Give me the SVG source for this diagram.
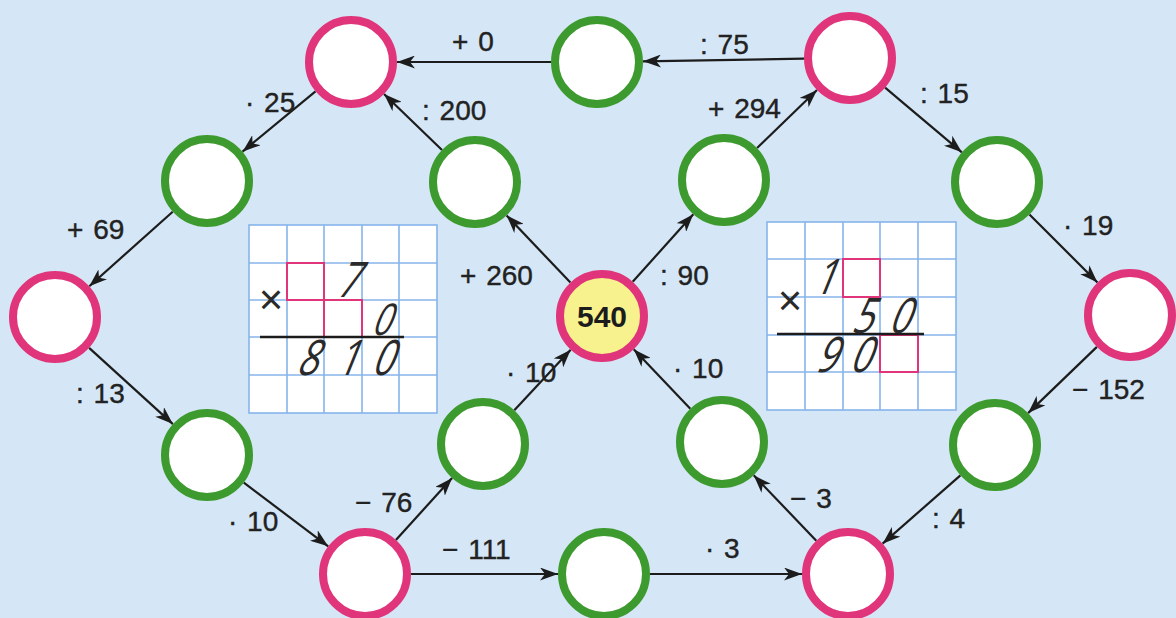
<svg xmlns="http://www.w3.org/2000/svg" width="1176" height="618" viewBox="0 0 1176 618">
<defs>
<marker id="arr" viewBox="0 0 18 13" refX="18" refY="6.5" markerWidth="18" markerHeight="13" markerUnits="userSpaceOnUse" orient="auto">
<path d="M0,0 L18,6.5 L0,13 L5,6.5 Z" fill="#1c1c1c"/>
</marker>
</defs>
<style>
.pk{fill:#ffffff;stroke:#e0357a;stroke-width:8}
.gr{fill:#ffffff;stroke:#3d9a2e;stroke-width:8}
.ctr{fill:#f7f28d;stroke:#e0357a;stroke-width:8}
.e{stroke:#1c1c1c;stroke-width:2.2;fill:none;marker-end:url(#arr)}
.lb{font-family:"Liberation Sans",Arial,sans-serif;font-size:28px;fill:#222222;stroke:#222222;stroke-width:0.4;word-spacing:2px}
.cell{fill:#ffffff;stroke:#86b4ea;stroke-width:1.6}
.gl{stroke:#86b4ea;stroke-width:1.6}
.box{fill:none;stroke:#e0357a;stroke-width:2}
.hw{font-family:"Open Sans","Liberation Sans",sans-serif;font-weight:400;font-size:49px;fill:#2a2a2a;text-anchor:middle}
.x{font-family:"Liberation Sans",Arial,sans-serif;font-size:42px;fill:#2a2a2a;text-anchor:middle}
.bar{stroke:#1c1c1c;stroke-width:2.5}
</style>
<rect x="0" y="0" width="1176" height="618" fill="#d5e7f6"/>

<g id="grid-left">
<rect class="cell" x="249" y="225" width="188" height="188"/>
<path class="gl" d="M287,225V413M324,225V413M362,225V413M399,225V413M249,263H437M249,300H437M249,337H437M249,375H437"/>
<rect class="box" x="287" y="263" width="37" height="37"/>
<rect class="box" x="324" y="300" width="38" height="37"/>
<text class="x" x="271" y="314">×</text>
<line class="bar" x1="260" y1="337" x2="404" y2="337"/>
<text class="hw" transform="translate(346,297) skewX(-22) scale(0.75,1)">7</text>
<text class="hw" transform="translate(380,335) skewX(-22) scale(0.75,1)" style="font-size:44px">0</text>
<text class="hw" transform="translate(306,375) skewX(-22) scale(0.75,1)">8</text>
<text class="hw" transform="translate(346,375) skewX(-22) scale(0.75,1)">1</text>
<text class="hw" transform="translate(381,375) skewX(-22) scale(0.75,1)">0</text>
</g>

<g id="grid-right">
<rect class="cell" x="767" y="222" width="189" height="188"/>
<path class="gl" d="M805,222V410M843,222V410M880,222V410M918,222V410M767,259H956M767,297H956M767,335H956M767,372H956"/>
<rect class="box" x="843" y="259" width="37" height="38"/>
<rect class="box" x="880" y="335" width="38" height="37"/>
<text class="x" x="790" y="315">×</text>
<line class="bar" x1="777" y1="334" x2="924" y2="334"/>
<text class="hw" transform="translate(823,294) skewX(-22) scale(0.75,1)">1</text>
<text class="hw" transform="translate(861,333) skewX(-22) scale(0.75,1)">5</text>
<text class="hw" transform="translate(898,333) skewX(-22) scale(0.75,1)">0</text>
<text class="hw" transform="translate(825,372) skewX(-22) scale(0.75,1)">9</text>
<text class="hw" transform="translate(859,372) skewX(-22) scale(0.75,1)">0</text>
</g>

<g id="connectors">
<line class="e" x1="551" y1="62" x2="397" y2="62"/>
<line class="e" x1="804" y1="58.7" x2="643" y2="61.3"/>
<line class="e" x1="315.5" y1="91.3" x2="242.5" y2="151.7"/>
<line class="e" x1="442" y1="150" x2="384" y2="94"/>
<line class="e" x1="172.7" y1="211.7" x2="89.3" y2="286.3"/>
<line class="e" x1="89.1" y1="347.9" x2="172.9" y2="424.1"/>
<line class="e" x1="243.8" y1="482.7" x2="328.2" y2="546.3"/>
<line class="e" x1="395.9" y1="540" x2="452.1" y2="478"/>
<line class="e" x1="411" y1="574" x2="558" y2="574"/>
<line class="e" x1="650" y1="574" x2="802" y2="574"/>
<line class="e" x1="514.3" y1="410.3" x2="570.7" y2="349.7"/>
<line class="e" x1="690.3" y1="408.7" x2="633.7" y2="349.3"/>
<line class="e" x1="816.3" y1="540.7" x2="753.7" y2="475.3"/>
<line class="e" x1="960.4" y1="475.3" x2="882.6" y2="543.7"/>
<line class="e" x1="1096.9" y1="346.9" x2="1028.1" y2="413.1"/>
<line class="e" x1="1029.5" y1="214.5" x2="1097.5" y2="282.5"/>
<line class="e" x1="885.1" y1="87.7" x2="961.9" y2="152.3"/>
<line class="e" x1="757.1" y1="148" x2="817" y2="90"/>
<line class="e" x1="632.7" y1="281.8" x2="693.3" y2="214.2"/>
<line class="e" x1="570.4" y1="282.6" x2="506.6" y2="215.4"/>
</g>

<g id="edge-labels">
<text class="lb" x="452" y="51">+ 0</text>
<text class="lb" x="700" y="54">: 75</text>
<text class="lb" x="245" y="112">· 25</text>
<text class="lb" x="422" y="120">: 200</text>
<text class="lb" x="708" y="118">+ 294</text>
<text class="lb" x="920" y="103">: 15</text>
<text class="lb" x="67" y="239">+ 69</text>
<text class="lb" x="1063" y="235">· 19</text>
<text class="lb" x="460" y="285">+ 260</text>
<text class="lb" x="660" y="285">: 90</text>
<text class="lb" x="76" y="403">: 13</text>
<text class="lb" x="1072" y="399">− 152</text>
<text class="lb" x="506" y="382">· 10</text>
<text class="lb" x="673" y="378">· 10</text>
<text class="lb" x="355" y="512">− 76</text>
<text class="lb" x="790" y="508">− 3</text>
<text class="lb" x="228" y="531">· 10</text>
<text class="lb" x="932" y="528">: 4</text>
<text class="lb" x="442" y="559">− 111</text>
<text class="lb" x="705" y="558">· 3</text>
</g>

<g id="node-p-top-left"><circle class="pk" cx="351" cy="62" r="42"/></g>
<g id="node-g-top"><circle class="gr" cx="597" cy="62" r="42"/></g>
<g id="node-p-top-right"><circle class="pk" cx="850" cy="58" r="42"/></g>
<g id="node-g-left-upper"><circle class="gr" cx="207" cy="181" r="42"/></g>
<g id="node-g-200"><circle class="gr" cx="475" cy="182" r="42"/></g>
<g id="node-g-294"><circle class="gr" cx="724" cy="180" r="42"/></g>
<g id="node-g-right-upper"><circle class="gr" cx="997" cy="182" r="42"/></g>
<g id="node-p-left"><circle class="pk" cx="55" cy="317" r="42"/></g>
<g id="node-center"><circle class="ctr" cx="602" cy="316" r="42"/><text x="602" y="327" text-anchor="middle" style="font-family:'Liberation Sans',Arial,sans-serif;font-weight:bold;font-size:30px;fill:#1c1c1c">540</text></g>
<g id="node-p-right"><circle class="pk" cx="1130" cy="315" r="42"/></g>
<g id="node-g-left-lower"><circle class="gr" cx="207" cy="455" r="42"/></g>
<g id="node-g-76"><circle class="gr" cx="483" cy="444" r="42"/></g>
<g id="node-g-3"><circle class="gr" cx="722" cy="442" r="42"/></g>
<g id="node-g-right-lower"><circle class="gr" cx="995" cy="445" r="42"/></g>
<g id="node-p-bottom-left"><circle class="pk" cx="365" cy="574" r="42"/></g>
<g id="node-g-bottom"><circle class="gr" cx="604" cy="574" r="42"/></g>
<g id="node-p-bottom-right"><circle class="pk" cx="848" cy="574" r="42"/></g>
</svg>
